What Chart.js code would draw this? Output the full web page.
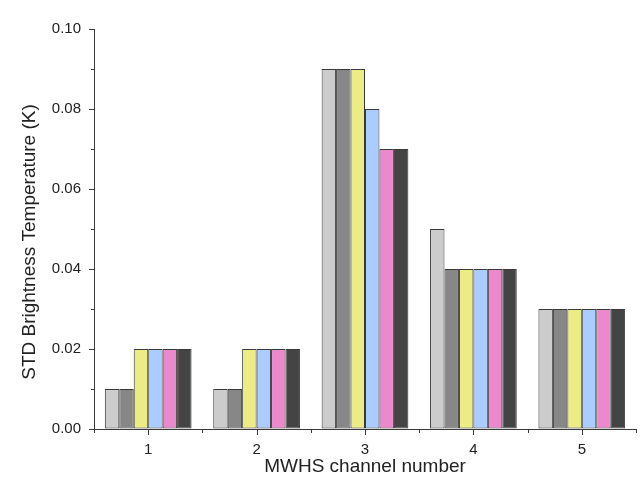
<!DOCTYPE html>
<html>
<head>
<meta charset="utf-8">
<script src="https://cdn.jsdelivr.net/npm/chart.js@4"></script>
<style>
  html, body { margin: 0; padding: 0; background: #ffffff; }
  #wrap { width: 642px; height: 494px; position: relative; }
</style>
</head>
<body>
<div id="wrap"><canvas id="c" width="642" height="494"></canvas></div>
<script>
const categories = ['1', '2', '3', '4', '5'];
const series1 = [0.01, 0.01, 0.09, 0.05, 0.03];
const series2 = [0.01, 0.01, 0.09, 0.04, 0.03];
const series3 = [0.02, 0.02, 0.09, 0.04, 0.03];
const series4 = [0.02, 0.02, 0.08, 0.04, 0.03];
const series5 = [0.02, 0.02, 0.07, 0.04, 0.03];
const series6 = [0.02, 0.02, 0.07, 0.04, 0.03];
const yMajorTicks = [0, 0.02, 0.04, 0.06, 0.08, 0.10];
const yMinorTicks = [0.01, 0.03, 0.05, 0.07, 0.09];
const xTitle = 'MWHS channel number';
const yTitle = 'STD Brightness Temperature (K)';

const fills = ['#cccccc', '#878787', '#ecec84', '#aaccff', '#ec88cc', '#444444'];
const allSeries = [series1, series2, series3, series4, series5, series6];

const axisColor = '#3a3a3a';
const fontFamily = '"Liberation Sans", Arial, sans-serif';

const tickPlugin = {
  id: 'ticksPlugin',
  afterDraw(chart) {
    const ctx = chart.ctx;
    const x = chart.scales.x, y = chart.scales.y;
    const area = chart.chartArea;
    const left = area.left, bottom = area.bottom;
    ctx.save();
    ctx.strokeStyle = axisColor;
    ctx.lineWidth = 1;
    ctx.beginPath();
    yMajorTicks.forEach(v => {
      const py = Math.round(y.getPixelForValue(v)) + 0.5;
      ctx.moveTo(left - 5, py); ctx.lineTo(left, py);
    });
    yMinorTicks.forEach(v => {
      const py = Math.round(y.getPixelForValue(v)) + 0.5;
      ctx.moveTo(left - 3, py); ctx.lineTo(left, py);
    });
    for (let i = 0; i < categories.length; i++) {
      const px = Math.round(x.getPixelForValue(i)) + 0.5;
      ctx.moveTo(px, bottom); ctx.lineTo(px, bottom + 6);
    }
    for (let i = 0; i <= categories.length; i++) {
      const px = Math.round(x.getPixelForValue(i - 0.5)) + 0.5;
      ctx.moveTo(px, bottom); ctx.lineTo(px, bottom + 4);
    }
    ctx.stroke();
    // y axis title, placed slightly below the plot centre as in the reference
    ctx.fillStyle = '#222';
    ctx.font = '19px ' + fontFamily;
    ctx.textAlign = 'center';
    ctx.textBaseline = 'middle';
    ctx.translate(30, (area.top + area.bottom) / 2 + 13);
    ctx.rotate(-Math.PI / 2);
    ctx.fillText(yTitle, 0, 0);
    ctx.restore();
  }
};

new Chart(document.getElementById('c'), {
  type: 'bar',
  data: {
    labels: categories,
    datasets: allSeries.map((s, i) => ({
      label: 'S' + (i + 1),
      data: s,
      backgroundColor: fills[i],
      borderColor: '#383838',
      borderWidth: 1,
      borderSkipped: false,
      categoryPercentage: 0.8,
      barPercentage: 1.0
    }))
  },
  options: {
    responsive: false,
    animation: false,
    devicePixelRatio: 1,
    layout: { padding: { top: 29, right: 6, left: 0, bottom: 0 } },
    plugins: { legend: { display: false }, tooltip: { enabled: false } },
    scales: {
      x: {
        offset: true,
        grid: { display: true, drawOnChartArea: false, drawTicks: false, offset: true },
        border: { display: true, color: axisColor, width: 1 },
        ticks: { color: '#222', padding: 12, font: { family: fontFamily, size: 15 } },
        title: { display: true, text: xTitle, color: '#222',
                 font: { family: fontFamily, size: 19 }, padding: { top: 0, bottom: 16 } },
        afterFit(scale) { scale.height = 65; }
      },
      y: {
        min: 0, max: 0.10,
        afterBuildTicks(scale) { scale.ticks = yMajorTicks.map(v => ({ value: v })); },
        grid: { display: true, drawOnChartArea: false, drawTicks: false },
        border: { display: true, color: axisColor, width: 1 },
        ticks: { color: '#222', padding: 13, font: { family: fontFamily, size: 15 },
                 callback: v => Number(v).toFixed(2) },
        title: { display: false, text: yTitle },
        afterFit(scale) { scale.width = 94; }
      }
    }
  },
  plugins: [tickPlugin]
});
</script>
</body>
</html>
